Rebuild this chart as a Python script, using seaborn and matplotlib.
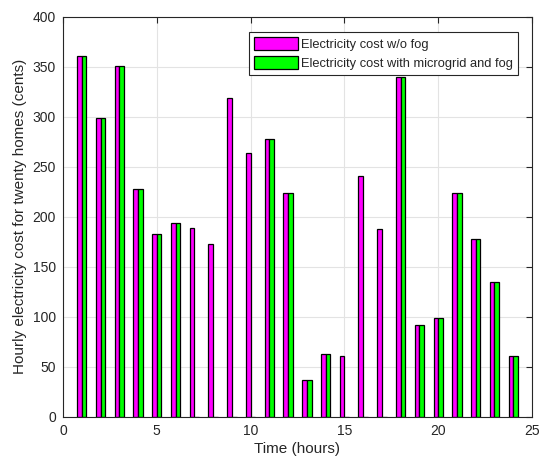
import matplotlib
matplotlib.use("Agg")
import matplotlib.pyplot as plt
import seaborn as sns
import pandas as pd

hours = list(range(1, 25))
cost_no_fog = [361, 299, 351, 228, 183, 194, 189, 173, 319, 264, 278, 224,
               37, 63, 61, 241, 188, 340, 92, 99, 224, 178, 135, 61]
cost_microgrid_fog = [361, 299, 351, 228, 183, 194, 0, 0, 0, 0, 278, 224,
                      37, 63, 0, 0, 0, 340, 92, 99, 224, 178, 135, 61]
series_names = ["Electricity cost w/o fog", "Electricity cost with microgrid and fog"]
x_ticks = [0, 5, 10, 15, 20, 25]
y_ticks = list(range(0, 401, 50))

df = pd.DataFrame({
    "hour": hours * 2,
    "cost": cost_no_fog + cost_microgrid_fog,
    "series": [series_names[0]] * len(hours) + [series_names[1]] * len(hours),
})

sns.set_style("white")
plt.rcParams["font.family"] = ["Liberation Sans", "DejaVu Sans"]

fig = plt.figure(figsize=(5.39, 4.70), dpi=100)
ax = fig.add_axes([63 / 539, 1 - 417 / 470, 469 / 539, 400.3 / 470])

sns.barplot(data=df, x="hour", y="cost", hue="series", native_scale=True,
            palette=["#ff00ff", "#00ff00"], width=0.5, edgecolor="black",
            linewidth=0.9, saturation=1, ax=ax, errorbar=None, legend=True)

ax.set_xlim(0, 25)
ax.set_ylim(0, 400)
ax.set_xticks(x_ticks)
ax.set_yticks(y_ticks)
ax.grid(True, color="#e3e3e3", linewidth=0.8)
ax.set_axisbelow(True)
ax.tick_params(direction="in", top=True, right=True, length=4, width=0.8,
               labelsize=10, colors="#262626", pad=5)
for s in ax.spines.values():
    s.set_visible(True)
    s.set_color("#262626")
    s.set_linewidth(0.8)
ax.set_xlabel("Time (hours)", fontsize=11, color="#262626", labelpad=3)
ax.set_ylabel("Hourly electricity cost for twenty homes (cents)", fontsize=11,
              color="#262626", labelpad=4)

leg = ax.legend(loc="upper right", bbox_to_anchor=(0.970, 0.962), fontsize=9.3,
                frameon=True, fancybox=False, framealpha=1, edgecolor="#262626",
                handlelength=3.4, handleheight=1.15, handletextpad=0.25,
                borderpad=0.4, labelspacing=0.38, borderaxespad=0.0)
leg.get_frame().set_linewidth(0.8)

fig.savefig("out.png", dpi=100)
